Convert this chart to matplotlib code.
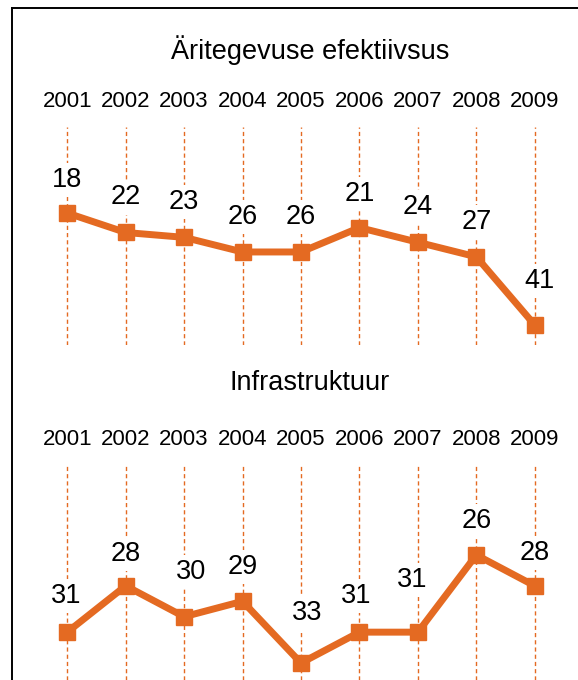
import matplotlib.pyplot as plt
from matplotlib.lines import Line2D

years = [2001, 2002, 2003, 2004, 2005, 2006, 2007, 2008, 2009]
aritegevus = [18, 22, 23, 26, 26, 21, 24, 27, 41]
infrastruktuur = [31, 28, 30, 29, 33, 31, 31, 26, 28]
titles = ["Äritegevuse efektiivsus", "Infrastruktuur"]

ORANGE = "#E46A22"
W, H = 578, 680

# label offsets in pixels (dx, dy)
off_top = [(0, 33), (0, 35), (0, 35), (0, 35), (0, 35), (0, 34), (0, 35), (0, 35), (5, 44)]
off_bot = [(-1, 36), (0, 32), (7, 45), (0, 34), (6, 50), (-3, 36), (-6, 52), (0, 34), (0, 33)]

plt.rcParams['font.family'] = ['Liberation Sans', 'DejaVu Sans']

fig = plt.figure(figsize=(W / 100, H / 100), dpi=100)


def px_axes(x0, y0, x1, y1):
    # pixel box (top-left origin) -> figure axes
    return fig.add_axes([x0 / W, 1 - y1 / H, (x1 - x0) / W, (y1 - y0) / H])


def panel(ax, values, ylim, offsets, title, title_y):
    ax.set_xlim(2000.5, 2009.5)
    ax.set_ylim(*ylim)
    for yr in years:
        ax.axvline(yr, color=ORANGE, lw=1.0, ls=(0, (3, 2.2)), zorder=1)
    ax.plot(years, values, color=ORANGE, lw=5, marker="s", markersize=11.5,
            solid_joinstyle="round", zorder=4)
    for yr, v, (dx, dy) in zip(years, values, offsets):
        ax.annotate(str(v), (yr, v), xytext=(dx, dy), textcoords="offset pixels",
                    ha="center", va="center", fontsize=19.5, zorder=3,
                    bbox=dict(boxstyle="square,pad=0.15", fc="white", ec="none"))
    ax.set_xticks(years)
    ax.set_xticklabels([str(y) for y in years], fontsize=16)
    ax.xaxis.tick_top()
    ax.tick_params(axis="x", length=0, pad=11)
    ax.set_yticks([])
    for s in ax.spines.values():
        s.set_visible(False)
    fig.text(310 / W, 1 - title_y / H, title, ha="center", va="center", fontsize=19.5)


ax1 = px_axes(38, 127, 564, 345)
panel(ax1, aritegevus, (45.1, 0.34), off_top, titles[0], 50)

ax2 = px_axes(38, 465, 564, 680)
panel(ax2, infrastruktuur, (34.1, 20.17), off_bot, titles[1], 383)

# border (left and top edges of the frame)
fig.add_artist(Line2D([11.5 / W, 11.5 / W], [0, 1 - 8 / H], color="black", lw=1.4,
                      transform=fig.transFigure))
fig.add_artist(Line2D([11.5 / W, 1], [1 - 8 / H, 1 - 8 / H], color="black", lw=1.4,
                      transform=fig.transFigure))

fig.savefig("out.png", dpi=100, facecolor="white")
